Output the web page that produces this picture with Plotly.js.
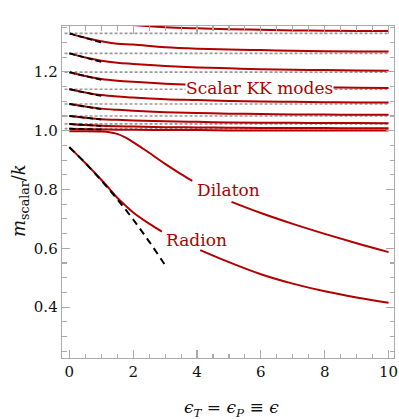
<!DOCTYPE html>
<html>
<head>
<meta charset="utf-8">
<script src="https://cdn.plot.ly/plotly-3.0.1.min.js"></script>
<style>html,body{margin:0;padding:0;background:#fff;}#plot{width:399px;height:420px;}</style>
</head>
<body>
<div id="plot"></div>
<script>
// ---- data ----
const kkX = [0, 0.5, 1, 1.5, 2, 3, 4, 5, 6, 7, 8, 9, 10];
const kk1 = [1.007, 1.005, 1.004, 1.003, 1.003, 1.002, 1.002, 1.001, 1.001, 1.001, 1.001, 1.001, 1.001];
const kk2 = [1.023, 1.019, 1.017, 1.015, 1.014, 1.012, 1.011, 1.010, 1.009, 1.009, 1.009, 1.008, 1.008];
const kk3 = [1.050, 1.044, 1.039, 1.037, 1.035, 1.032, 1.030, 1.028, 1.027, 1.027, 1.026, 1.026, 1.025];
const kk4 = [1.091, 1.082, 1.075, 1.071, 1.068, 1.063, 1.060, 1.058, 1.057, 1.055, 1.055, 1.054, 1.054];
const kk5 = [1.141, 1.130, 1.121, 1.116, 1.113, 1.107, 1.104, 1.101, 1.099, 1.098, 1.097, 1.096, 1.096];
const kk6 = [1.199, 1.186, 1.176, 1.170, 1.166, 1.160, 1.155, 1.152, 1.150, 1.148, 1.147, 1.146, 1.145];
const kk7 = [1.263, 1.249, 1.238, 1.231, 1.227, 1.220, 1.215, 1.212, 1.209, 1.207, 1.206, 1.205, 1.204];
const kk8 = [1.331, 1.316, 1.304, 1.296, 1.293, 1.284, 1.279, 1.276, 1.274, 1.272, 1.270, 1.269, 1.269];
const kk9 = [1.404, 1.386, 1.372, 1.364, 1.359, 1.352, 1.348, 1.345, 1.343, 1.341, 1.340, 1.339, 1.339];
const kkCurves = [kk1, kk2, kk3, kk4, kk5, kk6, kk7, kk8, kk9];

// asymptotic KK levels (gray dotted lines)
const kkLevels = [1.007, 1.023, 1.050, 1.091, 1.141, 1.199, 1.263, 1.331];

// small-epsilon approximations (black dashed), x = 0 .. 1
const approxX = [0, 1];
const approxKK = [
  [1.007, 1.004], [1.023, 1.016], [1.050, 1.038], [1.091, 1.073],
  [1.141, 1.118], [1.199, 1.173], [1.263, 1.234], [1.331, 1.300]
];

const dilatonX = [0, 0.5, 1, 1.25, 1.5, 1.75, 2, 2.25, 2.5, 3, 3.5, 3.85, null, 5.08, 6, 7, 8, 9, 10];
const dilatonY = [0.998, 0.998, 0.997, 0.995, 0.989, 0.977, 0.961, 0.943, 0.925, 0.887, 0.852, 0.829, null, 0.758, 0.720, 0.683, 0.649, 0.617, 0.587];

const radionX = [0, 0.5, 1, 1.25, 1.5, 1.75, 2, 2.5, 2.9, null, 4.1, 5, 6, 7, 8, 9, 10];
const radionY = [0.944, 0.890, 0.833, 0.803, 0.772, 0.746, 0.722, 0.684, 0.657, null, 0.594, 0.553, 0.512, 0.480, 0.454, 0.433, 0.415];

const radionApproxX = [0, 0.5, 1, 1.5, 2, 2.5, 3];
const radionApproxY = [0.944, 0.890, 0.831, 0.767, 0.698, 0.623, 0.543];

const xTicks = [0, 2, 4, 6, 8, 10];
const yTicks = [0.4, 0.6, 0.8, 1.0, 1.2];
const xLabels = ['0', '2', '4', '6', '8', '10'];
const yLabels = ['0.4', '0.6', '0.8', '1.0', '1.2'];

// ---- styling ----
const RED = '#b00000';
const GRAY = '#9a9a9a';
const FRAME = '#aaaaaa';
const SERIF = 'DejaVu Serif, Liberation Serif, serif';
const dashXSpan = [-0.15, 10];

const traces = [];
kkLevels.forEach(v => traces.push({
  x: dashXSpan, y: [v, v], mode: 'lines', hoverinfo: 'skip',
  line: {color: GRAY, width: 1.6, dash: '3px,2px'}
}));
kkCurves.forEach(c => traces.push({
  x: kkX, y: c, mode: 'lines', hoverinfo: 'skip',
  line: {color: RED, width: 2, shape: 'spline', smoothing: 1}
}));
traces.push({x: dilatonX, y: dilatonY, mode: 'lines', connectgaps: false,
  line: {color: RED, width: 2, shape: 'spline', smoothing: 1}});
traces.push({x: radionX, y: radionY, mode: 'lines', connectgaps: false,
  line: {color: RED, width: 2, shape: 'spline', smoothing: 1}});
approxKK.forEach(a => traces.push({
  x: approxX, y: a, mode: 'lines', hoverinfo: 'skip',
  line: {color: '#000', width: 1.8, dash: '6px,3px'}
}));
traces.push({x: radionApproxX, y: radionApproxY, mode: 'lines',
  line: {color: '#000', width: 2, dash: '7px,5px', shape: 'spline'}});

const axisCommon = {
  showgrid: false, zeroline: false, showline: true, linecolor: FRAME, linewidth: 1.3,
  mirror: 'ticks', ticks: 'inside', ticklen: 8, tickwidth: 1.2, tickcolor: FRAME,
  tickfont: {family: SERIF, size: 15, color: '#111'}
};

const layout = {
  width: 399, height: 420,
  margin: {l: 62, r: 5, t: 26, b: 62},
  paper_bgcolor: '#fff', plot_bgcolor: '#fff',
  showlegend: false,
  xaxis: Object.assign({}, axisCommon, {
    range: [-0.23, 10.17], tickmode: 'array', tickvals: xTicks, ticktext: xLabels,
    minor: {dtick: 0.5, tick0: 0, ticks: 'inside', ticklen: 4.5, tickcolor: FRAME, tickwidth: 1.1}
  }),
  yaxis: Object.assign({}, axisCommon, {
    range: [0.227, 1.356], tickmode: 'array', tickvals: yTicks, ticktext: yLabels,
    minor: {dtick: 0.05, tick0: 0, ticks: 'inside', ticklen: 4.5, tickcolor: FRAME, tickwidth: 1.1}
  }),
  annotations: [
    {text: 'Scalar KK modes', x: 5.96, y: 1.145, xref: 'x', yref: 'y', showarrow: false,
     font: {family: SERIF, size: 17, color: RED}, bgcolor: '#fff', borderpad: 0},
    {text: 'Dilaton', x: 4.99, y: 0.798, xref: 'x', yref: 'y', showarrow: false,
     font: {family: SERIF, size: 17, color: RED}},
    {text: 'Radion', x: 3.99, y: 0.628, xref: 'x', yref: 'y', showarrow: false,
     font: {family: SERIF, size: 17, color: RED}},
    {text: '<i>m</i><sub>scalar</sub>/<i>k</i>', textangle: -90,
     x: -0.1265, y: 0.473, xref: 'paper', yref: 'paper', xanchor: 'center', yanchor: 'middle',
     showarrow: false, font: {family: SERIF, size: 18, color: '#111'}},
    {text: '<i>ϵ</i><sub><i>T</i></sub> = <i>ϵ</i><sub><i>P</i></sub> ≡ <i>ϵ</i>',
     x: 0.512, y: -0.151, xref: 'paper', yref: 'paper', xanchor: 'center', yanchor: 'middle',
     showarrow: false, font: {family: SERIF, size: 17, color: '#111'}}
  ]
};

Plotly.newPlot('plot', traces, layout, {staticPlot: true, displayModeBar: false});
</script>
</body>
</html>
